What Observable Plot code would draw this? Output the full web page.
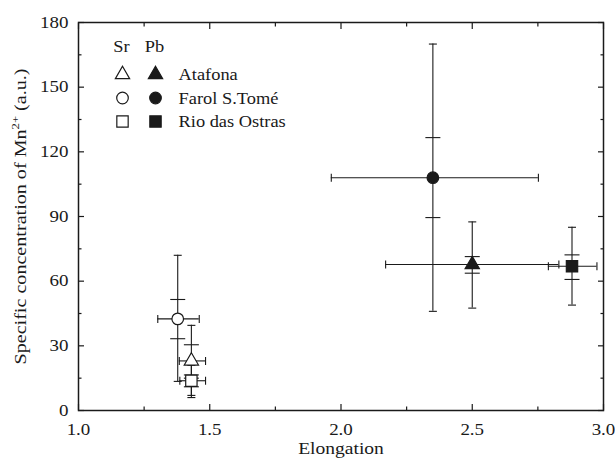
<!DOCTYPE html>
<html><head><meta charset="utf-8">
<script src="https://cdn.jsdelivr.net/npm/d3@7"></script>
<script src="https://cdn.jsdelivr.net/npm/@observablehq/plot@0.6"></script>
<style>
html,body{margin:0;padding:0;background:#fff;}
</style></head><body><div id="chart"></div>
<script>
// ---- data ----
const sites = ["Atafona", "Farol S.Tomé", "Rio das Ostras"];
const groups = ["Sr", "Pb"];
// Sr (open symbols)
const srElong   = [1.430, 1.378, 1.430];
const srElongLo = [1.384, 1.302, 1.386];
const srElongHi = [1.484, 1.460, 1.484];
const srConc    = [23.0, 42.5, 13.8];
const srConcLo  = [6.0, 13.5, 7.0];
const srConcHi  = [39.5, 72.0, 21.0];
const srConcInLo = [15.0, 33.3, 11.0];
const srConcInHi = [30.5, 51.5, 16.5];
// Pb (filled symbols)
const pbElong   = [2.50, 2.35, 2.88];
const pbElongLo = [2.17, 1.963, 2.79];
const pbElongHi = [2.83, 2.752, 2.975];
const pbConc    = [67.7, 108.0, 66.9];
const pbConcLo  = [47.5, 46.0, 48.9];
const pbConcHi  = [87.5, 170.0, 85.0];
const pbConcInLo = [63.7, 89.5, 60.8];
const pbConcInHi = [71.4, 126.6, 72.2];
// axes
const xMajor = [1.0, 1.5, 2.0, 2.5, 3.0];
const xMinor = [1.25, 1.75, 2.25, 2.75];
const yMajor = [0, 30, 60, 90, 120, 150, 180];
const yMinor = [15, 45, 75, 105, 135, 165];
const xTitle = "Elongation";
const yTitle = "Specific concentration of Mn2+ (a.u.)";

// ---- build table ----
const points = [];
sites.forEach((s, i) => {
  points.push({group: "Sr", site: s, x: srElong[i], xLo: srElongLo[i], xHi: srElongHi[i],
    y: srConc[i], yLo: srConcLo[i], yHi: srConcHi[i], yInLo: srConcInLo[i], yInHi: srConcInHi[i]});
  points.push({group: "Pb", site: s, x: pbElong[i], xLo: pbElongLo[i], xHi: pbElongHi[i],
    y: pbConc[i], yLo: pbConcLo[i], yHi: pbConcHi[i], yInLo: pbConcInLo[i], yInHi: pbConcInHi[i]});
});

// ---- styles ----
const ink = "#1a1a1a";
const symbolNames = ["triangle", "circle", "square"];
const markerR = [5.3, 5.8, 6.4];
const capH = {draw(c, size) { const w = Math.sqrt(size / Math.PI); c.moveTo(-w, 0); c.lineTo(w, 0); }};
const capV = {draw(c, size) { const w = Math.sqrt(size / Math.PI); c.moveTo(0, -w); c.lineTo(0, w); }};
const fillOf = g => g === "Pb" ? ink : "white";

const tickBase = {stroke: ink, strokeWidth: 1.2, fill: "none", label: null};
const capBase = {stroke: ink, strokeWidth: 1.1, fill: "none"};

const marks = [
  // ticks (inward, all four sides)
  Plot.axisX({anchor: "bottom", ticks: xMajor, tickSize: -6, ...tickBase}),
  Plot.axisX({anchor: "bottom", ticks: xMinor, tickSize: -3.5, ...tickBase}),
  Plot.axisX({anchor: "top", ticks: xMajor, tickSize: -6, ...tickBase}),
  Plot.axisX({anchor: "top", ticks: xMinor, tickSize: -3.5, ...tickBase}),
  Plot.axisY({anchor: "left", ticks: yMajor, tickSize: -6, ...tickBase}),
  Plot.axisY({anchor: "left", ticks: yMinor, tickSize: -3.5, ...tickBase}),
  Plot.axisY({anchor: "right", ticks: yMajor, tickSize: -6, ...tickBase}),
  Plot.axisY({anchor: "right", ticks: yMinor, tickSize: -3.5, ...tickBase}),
  // tick labels
  Plot.axisX({anchor: "bottom", ticks: xMajor, tickSize: 0, tickPadding: 13, tickFormat: d3.format(".1f"), label: null, fill: ink, fontSize: 16.5}),
  Plot.axisY({anchor: "left", ticks: yMajor, tickSize: 0, tickPadding: 10, tickFormat: d => String(d), label: null, fill: ink, fontSize: 16.5}),
  // axis titles
  Plot.text([xTitle], {frameAnchor: "bottom", text: d => d, dy: 37.6, textAnchor: "middle", lineAnchor: "middle", fontSize: 17, fill: ink}),
  Plot.text([yTitle], {frameAnchor: "left", text: d => d, rotate: -90, dx: -58.5, textAnchor: "middle", lineAnchor: "middle", fontSize: 17.5, fill: ink}),
  Plot.frame({stroke: ink, strokeWidth: 1.5}),
  // error bars
  Plot.ruleY(points, {y: "y", x1: "xLo", x2: "xHi", stroke: ink, strokeWidth: 1.1}),
  Plot.ruleX(points, {x: "x", y1: "yLo", y2: "yHi", stroke: ink, strokeWidth: 1.1}),
  Plot.dot(points, {x: "xLo", y: "y", symbol: capV, r: 4, ...capBase}),
  Plot.dot(points, {x: "xHi", y: "y", symbol: capV, r: 4, ...capBase}),
  Plot.dot(points, {x: "x", y: "yLo", symbol: capH, r: 4, ...capBase}),
  Plot.dot(points, {x: "x", y: "yHi", symbol: capH, r: 4, ...capBase}),
  Plot.dot(points, {x: "x", y: "yInLo", symbol: capH, r: 7.5, ...capBase}),
  Plot.dot(points, {x: "x", y: "yInHi", symbol: capH, r: 7.5, ...capBase}),
];
// markers
sites.forEach((s, i) => {
  marks.push(Plot.dot(points.filter(p => p.site === s), {
    x: "x", y: "y", symbol: symbolNames[i], r: markerR[i],
    fill: d => fillOf(d.group), stroke: ink, strokeWidth: 1.2
  }));
});
// legend (inside frame, top-left)
const legDx = {Sr: 44, Pb: 77};
groups.forEach(g => {
  marks.push(Plot.text([g], {frameAnchor: "top-left", text: d => d, dx: legDx[g] - 1, dy: 24.4, textAnchor: "middle", lineAnchor: "middle", fontSize: 16, fill: ink}));
});
sites.forEach((s, i) => {
  const dy = 52 + i * 23.5;
  groups.forEach(g => {
    marks.push(Plot.dot([s], {frameAnchor: "top-left", dx: legDx[g], dy, symbol: symbolNames[i], r: markerR[i],
      fill: fillOf(g), stroke: ink, strokeWidth: 1.2}));
  });
  marks.push(Plot.text([s], {frameAnchor: "top-left", text: d => d, dx: 100, dy: dy + 0.7, textAnchor: "start", lineAnchor: "middle", fontSize: 16, fill: ink}));
});

const chart = Plot.plot({
  width: 615, height: 462,
  marginLeft: 78, marginRight: 12, marginTop: 22, marginBottom: 52,
  x: {domain: [1, 3]},
  y: {domain: [0, 180]},
  style: {fontFamily: "'Liberation Serif', 'Times New Roman', serif", color: ink, background: "white", overflow: "visible"},
  marks
});
document.getElementById("chart").appendChild(chart);

// y title with superscript
chart.querySelectorAll("text").forEach(t => {
  if (t.textContent === yTitle) {
    t.textContent = "";
    const ns = "http://www.w3.org/2000/svg";
    const a = document.createElementNS(ns, "tspan"); a.textContent = "Specific concentration of Mn";
    const b = document.createElementNS(ns, "tspan"); b.textContent = "2+";
    b.setAttribute("baseline-shift", "super"); b.setAttribute("font-size", "11px");
    const c = document.createElementNS(ns, "tspan"); c.textContent = " (a.u.)";
    t.append(a, b, c);
  }
});
// the reference's serif type is set slightly wide: stretch each text along its own direction
const isPx = v => v != null && /^-?[\d.]+(px)?$/.test(v.trim());
chart.querySelectorAll("text").forEach(t => {
  const tr = t.getAttribute("transform") || "";
  let x = 0, y = 0;
  const ax = t.getAttribute("x"), ay = t.getAttribute("y");
  if (isPx(ax)) { x = parseFloat(ax); t.removeAttribute("x"); }
  if (isPx(ay)) { y = parseFloat(ay); t.removeAttribute("y"); }
  t.setAttribute("transform", `${tr} translate(${x},${y}) scale(1.15,1)`.trim());
});
</script></body></html>
